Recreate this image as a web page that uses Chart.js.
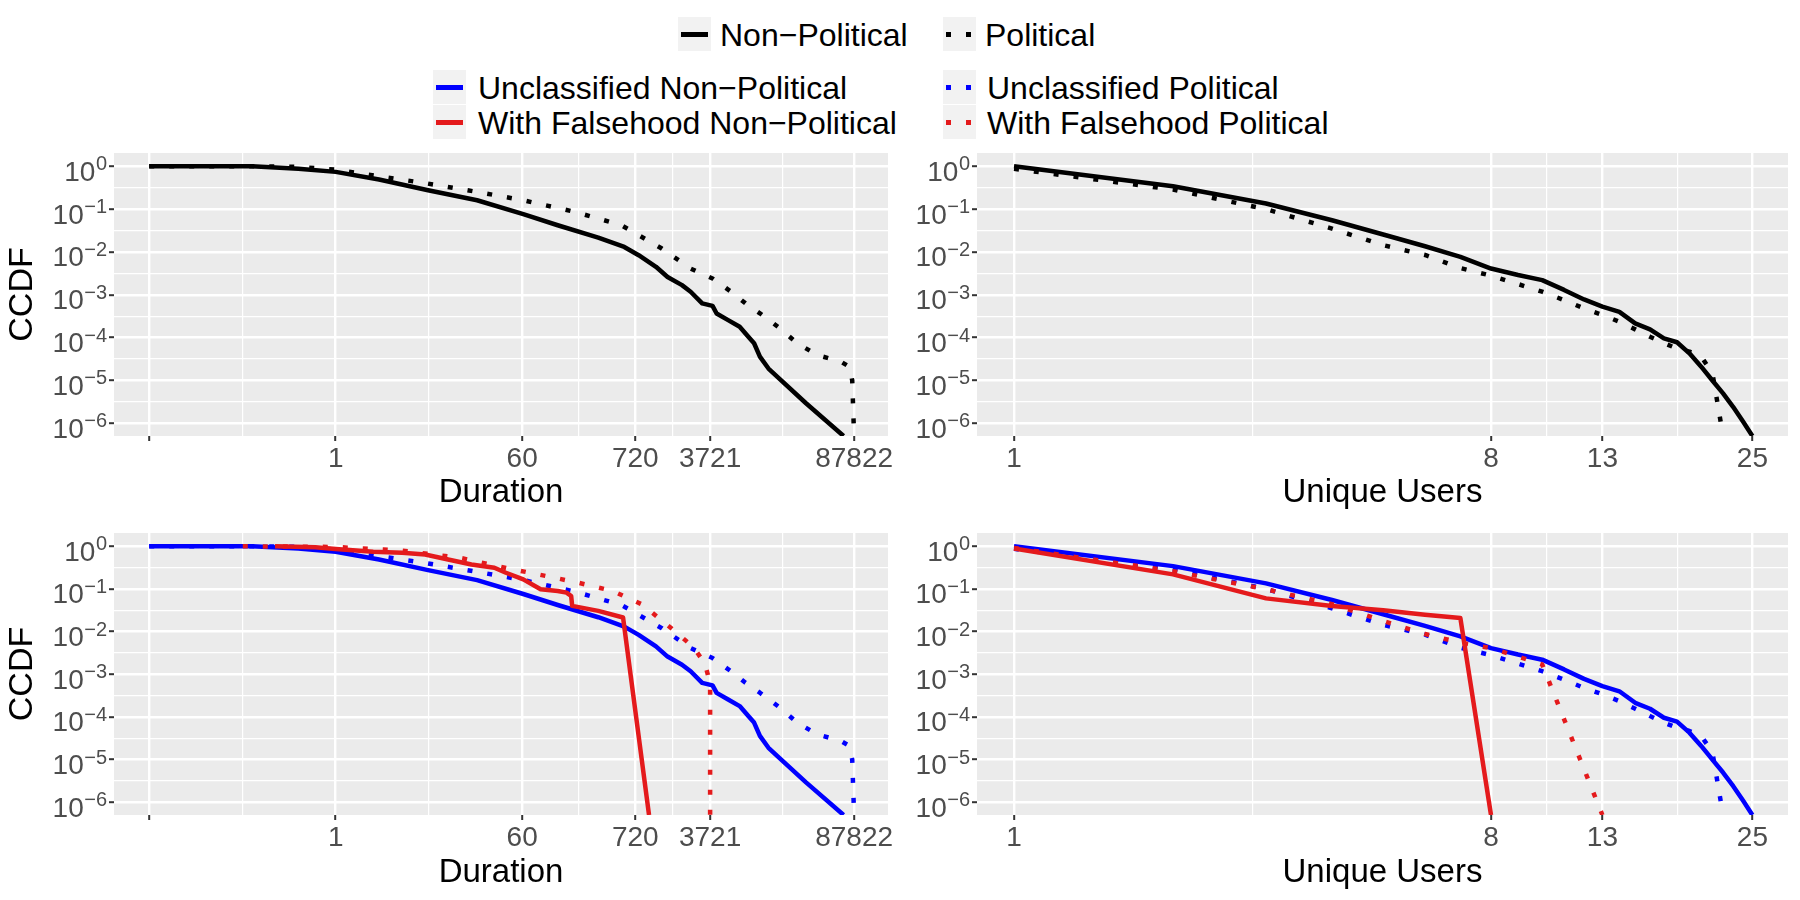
<!DOCTYPE html>
<html>
<head>
<meta charset="utf-8">
<script src="https://cdn.jsdelivr.net/npm/chart.js@4"></script>
<style>
  body { margin: 0; width: 1800px; height: 900px; background: #fff; position: relative; overflow: hidden;
         font-family: "Liberation Sans", Arial, sans-serif; }
  canvas { position: absolute; }
  .key { position: absolute; width: 33px; height: 34px; background: #f2f2f2; }
  .key .ln { position: absolute; left: 3px; width: 27px; top: 15px; height: 4.5px; }
  .lab { position: absolute; font-size: 32px; line-height: 34px; color: #000; white-space: nowrap; }
</style>
</head>
<body>

<!-- legend: line type -->
<div class="key" style="left:678px;top:17px"><div class="ln" style="background:#000"></div></div>
<div class="lab" style="left:720px;top:18px">Non−Political</div>
<div class="key" style="left:943px;top:17px"><div class="ln" style="background:repeating-linear-gradient(90deg,#000 0 5px,transparent 5px 20px)"></div></div>
<div class="lab" style="left:985px;top:18px">Political</div>

<!-- legend: colour x line type -->
<div class="key" style="left:433px;top:70px"><div class="ln" style="background:#0000ff"></div></div>
<div class="lab" style="left:478px;top:71px">Unclassified Non−Political</div>
<div class="key" style="left:433px;top:105px"><div class="ln" style="background:#e41a1c"></div></div>
<div class="lab" style="left:478px;top:106px">With Falsehood Non−Political</div>
<div class="key" style="left:943px;top:70px"><div class="ln" style="background:repeating-linear-gradient(90deg,#0000ff 0 5px,transparent 5px 20px)"></div></div>
<div class="lab" style="left:987px;top:71px">Unclassified Political</div>
<div class="key" style="left:943px;top:105px"><div class="ln" style="background:repeating-linear-gradient(90deg,#e41a1c 0 5px,transparent 5px 20px)"></div></div>
<div class="lab" style="left:987px;top:106px">With Falsehood Political</div>

<canvas id="durAll" width="900" height="380" style="left:0;top:140px;width:900px;height:380px"></canvas>
<canvas id="usrAll" width="900" height="380" style="left:900px;top:140px;width:900px;height:380px"></canvas>
<canvas id="durCls" width="900" height="380" style="left:0;top:520px;width:900px;height:380px"></canvas>
<canvas id="usrCls" width="900" height="380" style="left:900px;top:520px;width:900px;height:380px"></canvas>

<script>
// ---- data (0 = CCDF reaches zero, drawn on the panel floor) ----
const durNonPolX = [1/60, 0.159, 0.44, 1, 2.59, 7.6, 22.3, 61.5, 131, 319, 565, 775, 1133, 1461, 2006, 2426, 3124, 3925, 4290, 5525, 7120, 8610, 9770, 11100, 13400, 16200, 30550, 69700];
const durNonPolY = [1, 1, 0.88, 0.74, 0.49, 0.276, 0.161, 0.076, 0.042, 0.0217, 0.0131, 0.0084, 0.0045, 0.0026, 0.00168, 0.00118, 6.3e-4, 5.5e-4, 3.67e-4, 2.57e-4, 1.8e-4, 1.05e-4, 7.4e-5, 3.6e-5, 1.9e-5, 1.23e-5, 2.94e-6, 0];
const durPolX = [1/60, 0.159, 0.44, 1, 2.59, 7.6, 22.3, 61.5, 192, 530, 728, 1288, 2426, 3925, 5890, 8090, 11100, 17300, 25300, 39400, 65500, 79100, 84300, 87822];
const durPolY = [1, 1, 0.965, 0.836, 0.585, 0.394, 0.252, 0.161, 0.086, 0.042, 0.027, 0.012, 0.0041, 0.0024, 0.00118, 6.3e-4, 3.7e-4, 1.64e-4, 7.3e-5, 3.9e-5, 2.75e-5, 2.1e-5, 1.0e-5, 0];
// unclassified curves sit on top of the overall ones
const durUnclNonPolX = durNonPolX, durUnclNonPolY = durNonPolY;
const durUnclPolX = durPolX, durUnclPolY = durPolY;
const durFalseNonPolX = [0.264, 0.64, 1, 2.28, 4.3, 7.13, 11.8, 19.7, 32.6, 42, 61.5, 90, 131, 159, 176, 180, 319, 550, 973];
const durFalseNonPolY = [1, 0.95, 0.86, 0.738, 0.7, 0.64, 0.49, 0.374, 0.313, 0.239, 0.167, 0.098, 0.0895, 0.082, 0.068, 0.04, 0.0306, 0.0214, 0];
const durFalsePolX = [0.13, 1, 4.3, 15.3, 42, 102, 205, 438, 826, 1556, 2584, 3330, 3721, 3721];
const durFalsePolY = [1, 0.96, 0.79, 0.535, 0.31, 0.2, 0.14, 0.0895, 0.0438, 0.0125, 0.0043, 0.00175, 6e-4, 0];

const usrNonPolX = [1, 2, 3, 4, 5, 6, 7, 8, 9, 10, 11, 12, 13, 14, 15, 16, 17, 18, 19, 20, 21, 22, 23, 24, 25];
const usrNonPolY = [1, 0.342, 0.135, 0.055, 0.0255, 0.0136, 0.0077, 0.0041, 0.0029, 0.0022, 0.0013, 7.8e-4, 5.3e-4, 4.0e-4, 2.15e-4, 1.56e-4, 9.6e-5, 7.8e-5, 4.3e-5, 2.1e-5, 1.0e-5, 5e-6, 2.4e-6, 1.1e-6, 0];
const usrPolX = [1, 2, 3, 4, 5, 6, 7, 8, 9, 10, 11, 12, 13, 14, 15, 16, 17, 18, 19, 20, 21, 22];
const usrPolY = [0.87, 0.286, 0.1, 0.035, 0.0144, 0.0085, 0.0042, 0.0028, 0.00178, 0.00118, 7.5e-4, 4.8e-4, 3.4e-4, 2.35e-4, 1.56e-4, 1.05e-4, 7.4e-5, 5.6e-5, 4.7e-5, 3.6e-5, 1.5e-5, 0];
const usrUnclNonPolX = usrNonPolX, usrUnclNonPolY = usrNonPolY;
const usrUnclPolX = usrPolX, usrUnclPolY = usrPolY;
const usrFalseNonPolX = [1, 2, 3, 4, 5, 6, 7, 8];
const usrFalseNonPolY = [0.88, 0.219, 0.06, 0.04, 0.0317, 0.0247, 0.0207, 0];
const usrFalsePolX = [1, 2, 3, 4, 5, 6, 7, 8, 9, 10, 13];
const usrFalsePolY = [0.91, 0.26, 0.098, 0.044, 0.0178, 0.0088, 0.0055, 0.0041, 0.0026, 0.0017, 0];

// ---- axes ----
const durTicks = [1/60, 1, 60, 720, 3721, 87822];
const durTickLabels = ['', '1', '60', '720', '3721', '87822'];
const usrTicks = [1, 8, 13, 25];
const usrTickLabels = ['1', '8', '13', '25'];
const ccdfTicks = [1, 1e-1, 1e-2, 1e-3, 1e-4, 1e-5, 1e-6];
const ccdfExp = [0, -1, -2, -3, -4, -5, -6];

const DUR_MIN = 0.00769, DUR_MAX = 184900;
const USR_MIN = 0.851, USR_MAX = 29.2;
const Y_MIN = 5.06e-7, Y_MAX = 2.04;

const BLACK = '#000000', BLUE = '#0000ff', RED = '#e41a1c';
const DOTS = [5, 15];

Chart.defaults.font.family = '"Liberation Sans", Arial, sans-serif';

function pts(xs, ys) {
  // log(0) goes to the panel floor, as in ggplot
  return xs.map((x, i) => ({ x: x, y: ys[i] > 0 ? ys[i] : Y_MIN }));
}

function withMinor(majors, min, max) {
  const out = [];
  majors.forEach((v, i) => {
    out.push({ value: v });
    if (i < majors.length - 1) out.push({ value: Math.sqrt(v * majors[i + 1]), minor: true });
  });
  return out.filter(t => t.value >= min && t.value <= max);
}

function line(xs, ys, color, dotted) {
  return {
    data: pts(xs, ys), borderColor: color, borderWidth: 4.5,
    borderDash: dotted ? DOTS : [], borderCapStyle: 'butt', borderJoinStyle: 'round',
    pointRadius: 0, tension: 0, fill: false
  };
}

const gridOpts = {
  color: '#ffffff',
  lineWidth: c => (c.tick && c.tick.minor ? 1.2 : 2.4),
  drawTicks: true, tickLength: 5, tickWidth: 2,
  tickColor: c => (c.tick && c.tick.minor ? 'rgba(0,0,0,0)' : '#333333')
};

const panelBg = {
  id: 'panelBg',
  beforeDraw(chart) {
    const a = chart.chartArea, ctx = chart.ctx;
    ctx.save();
    ctx.fillStyle = '#ebebeb';
    ctx.fillRect(a.left, a.top, a.right - a.left, a.bottom - a.top);
    ctx.restore();
  }
};

// 10^k labels with a raised exponent
const powerLabels = {
  id: 'powerLabels',
  afterDraw(chart) {
    const ys = chart.scales.y, ctx = chart.ctx, xr = chart.chartArea.left - 7;
    ctx.save();
    ctx.fillStyle = '#4d4d4d';
    ctx.textAlign = 'right';
    ctx.textBaseline = 'alphabetic';
    ccdfTicks.forEach((v, i) => {
      const py = ys.getPixelForValue(v);
      const e = ccdfExp[i] === 0 ? '0' : '\u2212' + (-ccdfExp[i]);
      ctx.font = '20px "Liberation Sans"';
      ctx.fillText(e, xr, py + 4);
      const w = ctx.measureText(e).width;
      ctx.font = '28px "Liberation Sans"';
      ctx.fillText('10', xr - w - 0.5, py + 14.5);
    });
    ctx.restore();
  }
};

function panel(id, datasets, xCfg, yWidth, xHeight, showTitle) {
  new Chart(document.getElementById(id), {
    type: 'line',
    data: { datasets: datasets },
    options: {
      responsive: false, animation: false, devicePixelRatio: 1,
      layout: { padding: { top: 13, right: 12, left: 0, bottom: 0 } },
      plugins: { legend: { display: false }, tooltip: { enabled: false } },
      scales: {
        x: {
          type: 'logarithmic', min: xCfg.min, max: xCfg.max,
          afterBuildTicks: s => { s.ticks = withMinor(xCfg.ticks, xCfg.min, xCfg.max); },
          afterFit: s => { s.height = xHeight; },
          grid: gridOpts, border: { display: false },
          ticks: {
            autoSkip: false, maxRotation: 0, minRotation: 0, color: '#4d4d4d', font: { size: 28 }, padding: 1,
            callback: function (v, i, t) {
              if (t[i].minor) return '';
              const k = xCfg.ticks.indexOf(v);
              return k >= 0 ? xCfg.labels[k] : '';
            }
          },
          title: { display: true, text: xCfg.title, color: '#000', font: { size: 33 }, padding: { top: 0, bottom: 7 } }
        },
        y: {
          type: 'logarithmic', min: Y_MIN, max: Y_MAX,
          afterBuildTicks: s => { s.ticks = withMinor(ccdfTicks.slice().reverse(), Y_MIN, Y_MAX); },
          afterFit: s => { s.width = yWidth; },
          grid: gridOpts, border: { display: false },
          ticks: { autoSkip: false, callback: () => '' },
          title: { display: showTitle, text: 'CCDF', color: '#000', font: { size: 34 }, padding: { top: 2, bottom: 0 } }
        }
      }
    },
    plugins: [panelBg, powerLabels]
  });
}

const durAxis = { min: DUR_MIN, max: DUR_MAX, ticks: durTicks, labels: durTickLabels, title: 'Duration' };
const usrAxis = { min: USR_MIN, max: USR_MAX, ticks: usrTicks, labels: usrTickLabels, title: 'Unique Users' };

panel('durAll', [
  line(durNonPolX, durNonPolY, BLACK, false),
  line(durPolX, durPolY, BLACK, true)
], durAxis, 114, 84, true);

panel('usrAll', [
  line(usrNonPolX, usrNonPolY, BLACK, false),
  line(usrPolX, usrPolY, BLACK, true)
], usrAxis, 77, 84, false);

// first dataset is drawn on top
panel('durCls', [
  line(durFalseNonPolX, durFalseNonPolY, RED, false),
  line(durFalsePolX, durFalsePolY, RED, true),
  line(durUnclNonPolX, durUnclNonPolY, BLUE, false),
  line(durUnclPolX, durUnclPolY, BLUE, true)
], durAxis, 114, 85, true);

panel('usrCls', [
  line(usrFalseNonPolX, usrFalseNonPolY, RED, false),
  line(usrFalsePolX, usrFalsePolY, RED, true),
  line(usrUnclNonPolX, usrUnclNonPolY, BLUE, false),
  line(usrUnclPolX, usrUnclPolY, BLUE, true)
], usrAxis, 77, 85, false);
</script>
</body>
</html>
